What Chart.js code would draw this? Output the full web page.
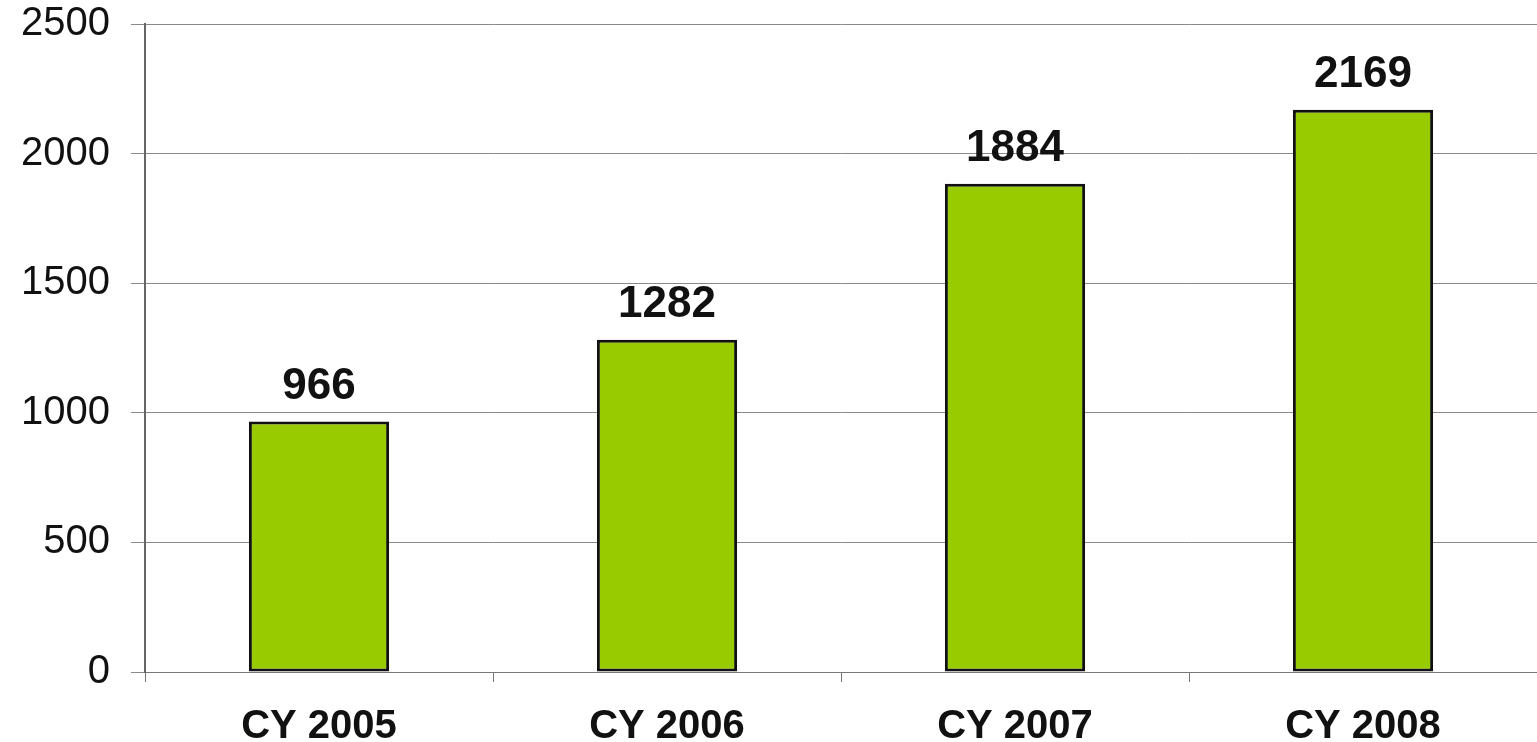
<!DOCTYPE html>
<html>
<head>
<meta charset="utf-8">
<script src="https://cdn.jsdelivr.net/npm/chart.js@4/dist/chart.umd.min.js"></script>
<style>
html,body{margin:0;padding:0;background:#fff;}
#wrap{position:relative;width:1537px;height:742px;}
</style>
</head>
<body>
<div id="wrap"><canvas id="c"></canvas></div>
<script>
const categories = ["CY 2005", "CY 2006", "CY 2007", "CY 2008"];
const values = [966, 1282, 1884, 2169];
const yTicks = [0, 500, 1000, 1500, 2000, 2500];

const valueLabels = {
  id: 'valueLabels',
  afterDatasetsDraw(chart) {
    const ctx = chart.ctx;
    const meta = chart.getDatasetMeta(0);
    ctx.save();
    ctx.font = 'bold 44px "Liberation Sans", Arial, sans-serif';
    ctx.fillStyle = '#111';
    ctx.textAlign = 'center';
    ctx.textBaseline = 'alphabetic';
    meta.data.forEach((bar, i) => {
      ctx.fillText(String(values[i]), bar.x, bar.y - 23);
    });
    ctx.restore();
  }
};

new Chart(document.getElementById('c'), {
  type: 'bar',
  data: {
    labels: categories,
    datasets: [{
      data: values,
      backgroundColor: '#99cc00',
      borderColor: '#111',
      borderWidth: 3,
      borderSkipped: false,
      categoryPercentage: 1.0,
      barPercentage: 0.403
    }]
  },
  options: {
    responsive: true,
    maintainAspectRatio: false,
    animation: false,
    layout: { padding: { left: 0, right: 0, top: 24, bottom: 0 } },
    plugins: { legend: { display: false }, tooltip: { enabled: false } },
    scales: {
      x: {
        grid: { display: true, drawOnChartArea: false, drawTicks: true, tickLength: 10, color: '#777', offset: true },
        border: { display: true, color: '#777', width: 1 },
        ticks: { color: '#111', font: { family: '"Liberation Sans", Arial, sans-serif', size: 40, weight: 'bold' }, padding: 21, maxRotation: 0 },
        afterFit(scale) { scale.height = 70; scale.paddingLeft = 0; scale.paddingRight = 0; }
      },
      y: {
        min: 0, max: 2500,
        afterBuildTicks(scale) { scale.ticks = yTicks.map(v => ({ value: v })); },
        grid: { color: '#8a8a8a', lineWidth: 1, tickLength: 14, drawTicks: true },
        border: { display: true, color: '#666', width: 2 },
        ticks: { color: '#111', font: { family: '"Liberation Sans", Arial, sans-serif', size: 40 }, padding: 21, callback: (v) => String(v) },
        afterFit(scale) { scale.width = 145; scale.paddingTop = 0; scale.paddingBottom = 0; }
      }
    }
  },
  plugins: [valueLabels]
});
</script>
</body>
</html>
